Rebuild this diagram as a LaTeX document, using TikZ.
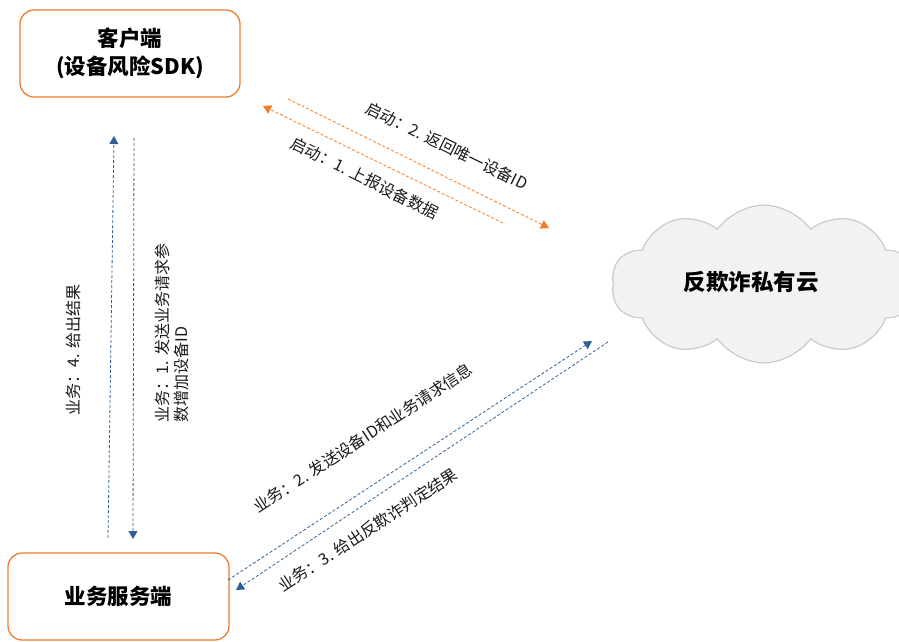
\documentclass[tikz,border=0pt]{standalone}
\usepackage{fontspec}
\setmainfont{Noto Sans CJK SC}
\usetikzlibrary{arrows.meta,shapes.symbols}
\definecolor{boxorange}{HTML}{ED7D31}
\definecolor{arrorange}{HTML}{F47B20}
\definecolor{arrblue}{HTML}{2E6296}
\definecolor{cloudfill}{HTML}{F2F2F2}
\definecolor{cloudline}{HTML}{CACACA}
\begin{document}
\begin{tikzpicture}[x=1pt,y=-1pt,
  box/.style={draw=boxorange, line width=1.3pt, rounded corners=14pt, align=center, inner sep=0pt,
    font=\bfseries\fontsize{21.5}{28}\selectfont},
  dline/.style={dash pattern=on 3pt off 2pt, line width=0.8pt},
  oarrow/.style={dline, draw=arrorange, -{Triangle[width=9pt,length=8pt]}},
  barrow/.style={dline, draw=arrblue, -{Triangle[width=9pt,length=8pt]}},
  lab/.style={font=\fontsize{16}{19.5}\selectfont, inner sep=0pt, text=black!90}]
\useasboundingbox (0,0) rectangle (899,641);
% nodes
\node[box, minimum width=220pt, minimum height=87pt] (client) at (130,53.5) {客户端\\(设备风险SDK)};
\node[box, minimum width=221pt, minimum height=87pt] (server) at (118.5,596.5) {业务服务端};
\node[cloud, draw=cloudline, fill=cloudfill, line width=1.2pt, cloud puffs=10, cloud puff arc=110,
  aspect=1.95, minimum width=305pt, minimum height=158pt, inner sep=0pt] (cloud) at (764,284) {};
\node[font=\bfseries\fontsize{22.5}{26}\selectfont] (cloudtext) at (751,282) {反欺诈私有云};
% coordinates
\coordinate (o1s) at (503,223); \coordinate (o1e) at (263,106);
\coordinate (o2s) at (288,99);  \coordinate (o2e) at (549,228);
\coordinate (b4s) at (108,538); \coordinate (b4e) at (114,136);
\coordinate (b1s) at (134,138); \coordinate (b1e) at (133,539);
\coordinate (b2s) at (228,580); \coordinate (b2e) at (592,341);
\coordinate (b3s) at (608,342); \coordinate (b3e) at (236,590);
% connectors
\draw[oarrow] (o1s) -- (o1e);
\draw[oarrow] (o2s) -- (o2e);
\draw[barrow] (b4s) -- (b4e);
\draw[barrow] (b1s) -- (b1e);
\draw[barrow] (b2s) -- (b2e);
\draw[barrow] (b3s) -- (b3e);
% labels
\node[lab, rotate=-26.3] (l1) at (447,146) {启动：2. 返回唯一设备ID};
\node[lab, rotate=-26.3] (l2) at (365,178) {启动：1. 上报设备数据};
\node[lab, rotate=90] (l3) at (73,350) {业务：4. 给出结果};
\node[lab, rotate=90, align=left] (l4) at (172,333) {业务：1. 发送业务请求参\\数增加设备ID};
\node[lab, rotate=33.2] (l5) at (363,438) {业务：2. 发送设备ID和业务请求信息};
\node[lab, rotate=33.2] (l6) at (368,530) {业务：3. 给出反欺诈判定结果};
\end{tikzpicture}
\end{document}
